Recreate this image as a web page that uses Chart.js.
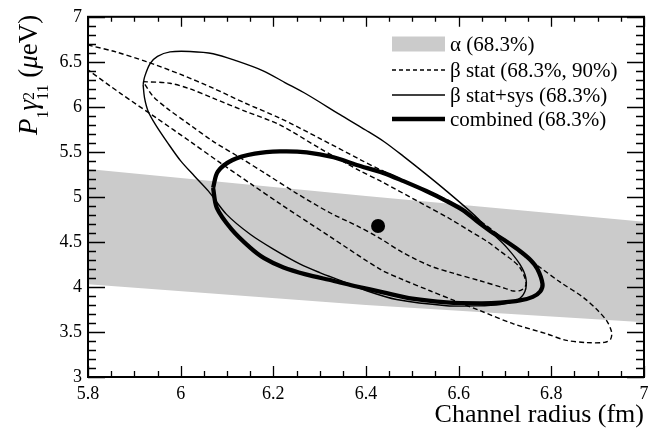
<!DOCTYPE html>
<html>
<head>
<meta charset="utf-8">
<script src="https://cdn.jsdelivr.net/npm/chart.js@4.4.1/dist/chart.umd.min.js"></script>
<style>
  html, body { margin: 0; padding: 0; background: #fff; }
</style>
</head>
<body>
<canvas id="chart" width="657" height="433"></canvas>
<script>
// --- 1. Values: [channel radius (fm), P1*gamma^2 (ueV)] ---
const bandUpper = [[5.8, 5.31], [6.4, 5.01], [7.0, 4.725]];
const bandLower = [[5.8, 4.03], [6.4, 3.80], [7.0, 3.607]];

const bestFit = [[6.426, 4.677]];

const combined = [
  [6.070, 5.100], [6.080, 5.280], [6.112, 5.410], [6.160, 5.480], [6.214, 5.505],
  [6.272, 5.495], [6.330, 5.440], [6.380, 5.355], [6.437, 5.267], [6.481, 5.175],
  [6.530, 5.065], [6.574, 4.954], [6.610, 4.850], [6.639, 4.732], [6.668, 4.622],
  [6.700, 4.515], [6.732, 4.400], [6.755, 4.300], [6.770, 4.200], [6.781, 4.032],
  [6.776, 3.950], [6.760, 3.890], [6.732, 3.850], [6.690, 3.825], [6.646, 3.818],
  [6.574, 3.829], [6.500, 3.870], [6.437, 3.940], [6.380, 4.005], [6.329, 4.069],
  [6.270, 4.140], [6.222, 4.216], [6.180, 4.320], [6.150, 4.437], [6.110, 4.640],
  [6.078, 4.879], [6.070, 5.100]
];

const statSys = [
  [5.919, 6.244], [5.922, 6.330], [5.934, 6.480], [5.950, 6.560], [5.977, 6.610],
  [6.020, 6.615], [6.070, 6.590], [6.121, 6.510], [6.178, 6.400], [6.225, 6.270],
  [6.272, 6.140], [6.344, 5.913], [6.400, 5.740], [6.440, 5.610], [6.481, 5.450],
  [6.530, 5.250], [6.574, 5.064], [6.632, 4.806], [6.675, 4.585], [6.704, 4.437],
  [6.732, 4.253], [6.745, 4.100], [6.743, 3.950], [6.725, 3.850], [6.690, 3.805],
  [6.640, 3.790], [6.574, 3.792], [6.466, 3.860], [6.400, 3.960], [6.351, 4.060],
  [6.300, 4.160], [6.258, 4.253], [6.200, 4.420], [6.150, 4.585], [6.099, 4.806],
  [6.060, 5.064], [6.030, 5.230], [6.000, 5.400], [5.972, 5.600], [5.946, 5.800],
  [5.930, 5.949], [5.922, 6.100], [5.919, 6.244]
];

const stat68 = [
  [5.919, 6.280], [5.977, 6.262], [6.020, 6.200], [6.070, 6.096], [6.140, 5.950],
  [6.214, 5.800], [6.300, 5.540], [6.387, 5.290], [6.430, 5.180], [6.530, 4.900],
  [6.580, 4.760], [6.624, 4.622], [6.660, 4.510], [6.689, 4.400], [6.715, 4.300],
  [6.732, 4.216], [6.743, 4.100], [6.745, 4.020], [6.735, 3.965], [6.718, 3.955],
  [6.700, 3.985], [6.646, 4.069], [6.590, 4.150], [6.538, 4.235], [6.480, 4.380],
  [6.430, 4.540], [6.380, 4.680], [6.322, 4.824], [6.250, 5.040], [6.186, 5.250],
  [6.130, 5.430], [6.070, 5.617], [6.020, 5.800], [5.970, 5.986], [5.940, 6.120],
  [5.919, 6.280]
];

const stat90 = [
  [5.800, 6.687], [5.860, 6.610], [5.926, 6.502], [6.000, 6.360], [6.070, 6.207],
  [6.140, 6.040], [6.214, 5.875], [6.300, 5.650], [6.387, 5.415], [6.430, 5.304],
  [6.500, 5.140], [6.574, 4.970], [6.639, 4.760], [6.700, 4.520], [6.745, 4.330],
  [6.776, 4.216], [6.820, 4.050], [6.869, 3.884], [6.900, 3.740], [6.920, 3.620],
  [6.930, 3.500], [6.928, 3.420], [6.915, 3.385], [6.876, 3.382], [6.830, 3.410],
  [6.790, 3.479], [6.718, 3.590], [6.646, 3.737], [6.590, 3.850], [6.538, 3.958],
  [6.480, 4.080], [6.430, 4.198], [6.322, 4.560], [6.214, 4.925], [6.150, 5.150],
  [6.085, 5.380], [6.020, 5.617], [5.948, 5.875], [5.870, 6.150], [5.800, 6.410]
];

const legendLabels = ['α (68.3%)', 'β stat (68.3%, 90%)', 'β stat+sys (68.3%)', 'combined (68.3%)'];

const X_MIN = 5.8, X_MAX = 7, X_MAJOR = 0.2, X_MINOR = 0.05;
const Y_MIN = 3, Y_MAX = 7, Y_MAJOR = 0.5, Y_MINOR = 0.1;

const SERIF = "'Liberation Serif', Tinos, 'Times New Roman', Times, 'DejaVu Serif', serif";
const GREY = '#cbcbcb';
const DASH = [5, 3];

const toXY = pts => pts.map(([x, y]) => ({ x, y }));
const fmt = v => String(+v.toFixed(2));

// --- 2. Frame, inward ticks, legend and y title (ROOT look) ---
const rootDecor = {
  id: 'rootDecor',
  afterDraw(chart) {
    const { ctx, chartArea: a, scales: { x, y } } = chart;
    ctx.save();

    // inward ticks on all four sides
    ctx.strokeStyle = '#000';
    ctx.lineWidth = 1.3;
    ctx.beginPath();
    const nx = Math.round((X_MAX - X_MIN) / X_MINOR);
    const perX = Math.round(X_MAJOR / X_MINOR);
    for (let i = 0; i <= nx; i++) {
      const px = Math.round(x.getPixelForValue(X_MIN + i * X_MINOR)) + 0.5;
      const major = i % perX === 0;
      ctx.moveTo(px, a.bottom); ctx.lineTo(px, a.bottom - (major ? 11 : 6));
      ctx.moveTo(px, a.top); ctx.lineTo(px, a.top + (major ? 10 : 5));
    }
    const ny = Math.round((Y_MAX - Y_MIN) / Y_MINOR);
    const perY = Math.round(Y_MAJOR / Y_MINOR);
    for (let i = 0; i <= ny; i++) {
      const py = Math.round(y.getPixelForValue(Y_MIN + i * Y_MINOR)) + 0.5;
      const major = i % perY === 0;
      ctx.moveTo(a.left, py); ctx.lineTo(a.left + (major ? 17 : 8), py);
      ctx.moveTo(a.right, py); ctx.lineTo(a.right - (major ? 17 : 8), py);
    }
    ctx.stroke();

    ctx.lineWidth = 2;
    ctx.strokeRect(a.left, a.top, a.right - a.left, a.bottom - a.top);

    // legend
    const lx0 = a.left + 304, lx1 = a.left + 357, tx = a.left + 362;
    const rows = [44, 70, 95, 119];
    ctx.fillStyle = GREY;
    ctx.fillRect(lx0, rows[0] - 7.5, lx1 - lx0, 15);
    const styles = [null, { w: 1.5, d: [4, 3] }, { w: 1.5, d: [] }, { w: 4.5, d: [] }];
    styles.forEach((s, i) => {
      if (!s) return;
      ctx.beginPath();
      ctx.lineWidth = s.w;
      ctx.setLineDash(s.d);
      ctx.moveTo(lx0, rows[i]); ctx.lineTo(lx1, rows[i]);
      ctx.stroke();
    });
    ctx.setLineDash([]);
    ctx.fillStyle = '#000';
    ctx.font = '21px ' + SERIF;
    ctx.textAlign = 'left';
    ctx.textBaseline = 'middle';
    legendLabels.forEach((t, i) => ctx.fillText(t, tx, rows[i] + 1));

    // y title: P_1 gamma^2_11 (mu eV), rotated, flush with the top of the axis
    const big = '27px ' + SERIF, bigI = 'italic 27px ' + SERIF, small = '16px ' + SERIF;
    const parts = [
      { t: 'P', f: bigI, dy: 0 },
      { t: '1', f: small, dy: 11 },
      { t: 'γ', f: bigI, dy: 0 },
      { t: '2', f: small, dy: -3, sub: '11', subDy: 11 },
      { t: ' (', f: big, dy: 0 },
      { t: 'μ', f: bigI, dy: 0 },
      { t: 'eV)', f: big, dy: 0 }
    ];
    let total = 0;
    parts.forEach(p => {
      ctx.font = p.f;
      p.w = ctx.measureText(p.t).width;
      if (p.sub) p.w = Math.max(p.w, ctx.measureText(p.sub).width);
      total += p.w;
    });
    ctx.translate(37, a.top - 2);
    ctx.rotate(-Math.PI / 2);
    ctx.textAlign = 'left';
    ctx.textBaseline = 'alphabetic';
    let cx = -total;
    parts.forEach(p => {
      ctx.font = p.f;
      ctx.fillText(p.t, cx, p.dy);
      if (p.sub) ctx.fillText(p.sub, cx, p.subDy);
      cx += p.w;
    });

    ctx.restore();
  }
};

// --- 3. Chart.js setup ---
const lineDefaults = { borderColor: '#000', pointRadius: 0, fill: false, tension: 0.3 };

new Chart(document.getElementById('chart'), {
  type: 'line',
  data: {
    datasets: [
      { label: 'best fit', data: toXY(bestFit), showLine: false, pointRadius: 7,
        pointBackgroundColor: '#000', pointBorderWidth: 0, order: 0 },
      { label: 'combined', data: toXY(combined), ...lineDefaults, borderWidth: 4.3, order: 1 },
      { label: 'stat+sys', data: toXY(statSys), ...lineDefaults, borderWidth: 1.4, order: 2 },
      { label: 'stat 68.3%', data: toXY(stat68), ...lineDefaults, borderWidth: 1.4, borderDash: DASH, order: 3 },
      { label: 'stat 90%', data: toXY(stat90), ...lineDefaults, borderWidth: 1.4, borderDash: DASH, order: 4 },
      { label: 'alpha', data: toXY(bandUpper), borderColor: 'rgba(0,0,0,0)', borderWidth: 1,
        backgroundColor: GREY, pointRadius: 0, tension: 0, fill: '+1', order: 5 },
      { label: 'alpha lower', data: toXY(bandLower), borderColor: 'rgba(0,0,0,0)', borderWidth: 1,
        pointRadius: 0, tension: 0, fill: false, order: 6 }
    ]
  },
  options: {
    responsive: false,
    animation: false,
    events: [],
    layout: { padding: { left: 0, top: 15, right: 13, bottom: 0 } },
    plugins: { legend: { display: false }, tooltip: { enabled: false } },
    scales: {
      x: {
        type: 'linear', min: X_MIN, max: X_MAX,
        grid: { display: false, drawTicks: false }, border: { display: false },
        ticks: { stepSize: X_MAJOR, padding: 6, color: '#000', maxRotation: 0, autoSkip: false,
                 font: { family: SERIF, size: 18 }, callback: fmt },
        title: { display: true, text: 'Channel radius (fm)', align: 'end', color: '#000',
                 font: { family: SERIF, size: 26 }, padding: { top: 0, bottom: 2 } },
        afterFit(s) { s.height = 56; }
      },
      y: {
        type: 'linear', min: Y_MIN, max: Y_MAX,
        grid: { display: false, drawTicks: false }, border: { display: false },
        ticks: { stepSize: Y_MAJOR, padding: 6, color: '#000', autoSkip: false,
                 font: { family: SERIF, size: 18 }, callback: fmt },
        afterFit(s) { s.width = 88; }
      }
    }
  },
  plugins: [rootDecor]
});
</script>
</body>
</html>
